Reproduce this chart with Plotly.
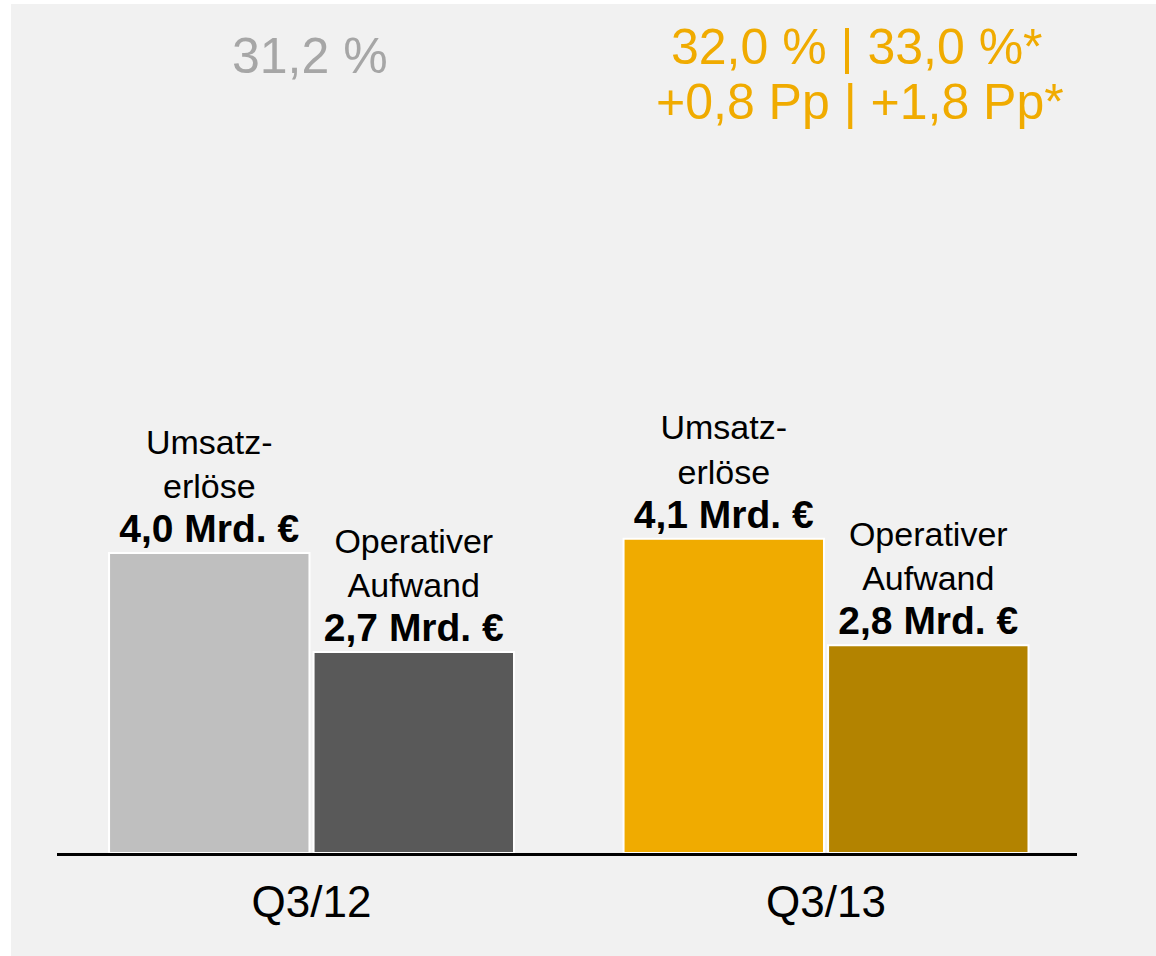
import plotly.graph_objects as go

categories = ["Q3/12", "Q3/13"]
revenue = [4.0, 4.19]
opex = [2.68, 2.77]
revenue_labels = ["4,0 Mrd. €", "4,1 Mrd. €"]
opex_labels = ["2,7 Mrd. €", "2,8 Mrd. €"]
revenue_colors = ["#bfbfbf", "#f0ab00"]
opex_colors = ["#595959", "#b38300"]
margin_q312 = "31,2 %"
margin_q313_line1 = "32,0 % | 33,0 %*"
margin_q313_line2 = "+0,8 Pp | +1,8 Pp*"

W, H = 1156, 956
L, R, T, B = 57, 79, 0, 103
PW, PH = W - L - R, H - T - B
FONT = "Liberation Sans, Arial, sans-serif"


def px_x(p):
    return (p - L) / PW


def px_y(p):
    return (PH + T - p) / PH


rev_text = [f"Umsatz-<br>erlöse<br><b><span style='font-size:39px'>{t}</span></b>" for t in revenue_labels]
opx_text = [f"Operativer<br>Aufwand<br><b><span style='font-size:39px'>{t}</span></b>" for t in opex_labels]

fig = go.Figure()
fig.add_trace(go.Bar(
    x=categories, y=revenue, marker=dict(color=revenue_colors, line=dict(color="white", width=2)),
    text=rev_text, textposition="outside", cliponaxis=False, constraintext="none",
    outsidetextfont=dict(family=FONT, size=34, color="black"), hoverinfo="skip",
))
fig.add_trace(go.Bar(
    x=categories, y=opex, marker=dict(color=opex_colors, line=dict(color="white", width=2)),
    text=opx_text, textposition="outside", cliponaxis=False, constraintext="none",
    outsidetextfont=dict(family=FONT, size=34, color="black"), hoverinfo="skip",
))

fig.add_shape(type="rect", xref="paper", yref="paper", layer="below",
              x0=px_x(11), x1=px_x(1160), y0=px_y(960), y1=px_y(4),
              fillcolor="#f1f1f1", line=dict(width=0))

fig.add_annotation(xref="paper", yref="paper", x=px_x(310), y=px_y(56), text=margin_q312,
                   showarrow=False, xanchor="center", yanchor="middle",
                   font=dict(family=FONT, size=50, color="#a6a6a6"))
fig.add_annotation(xref="paper", yref="paper", x=px_x(857), y=px_y(47), text=margin_q313_line1,
                   showarrow=False, xanchor="center", yanchor="middle",
                   font=dict(family=FONT, size=50, color="#f0ab00"))
fig.add_annotation(xref="paper", yref="paper", x=px_x(860), y=px_y(102), text=margin_q313_line2,
                   showarrow=False, xanchor="center", yanchor="middle",
                   font=dict(family=FONT, size=50, color="#f0ab00"))

fig.update_layout(
    width=W, height=H, margin=dict(l=L, r=R, t=T, b=B, pad=0),
    paper_bgcolor="white", plot_bgcolor="rgba(0,0,0,0)",
    barmode="group", bargap=0.205, bargroupgap=0.02, showlegend=False,
    xaxis=dict(showline=True, linecolor="black", linewidth=3, showgrid=False, zeroline=False,
               range=[-0.4947, 1.4878],
               ticks="outside", ticklen=8, tickcolor="rgba(0,0,0,0)",
               tickfont=dict(family=FONT, size=44, color="black")),
    yaxis=dict(range=[0, PH / 75.0], visible=False, showgrid=False, zeroline=False),
    font=dict(family=FONT),
)

fig.write_html("out.html", config={"displayModeBar": False},
               post_script="document.body.style.margin='0px';document.body.style.overflow='hidden';")
